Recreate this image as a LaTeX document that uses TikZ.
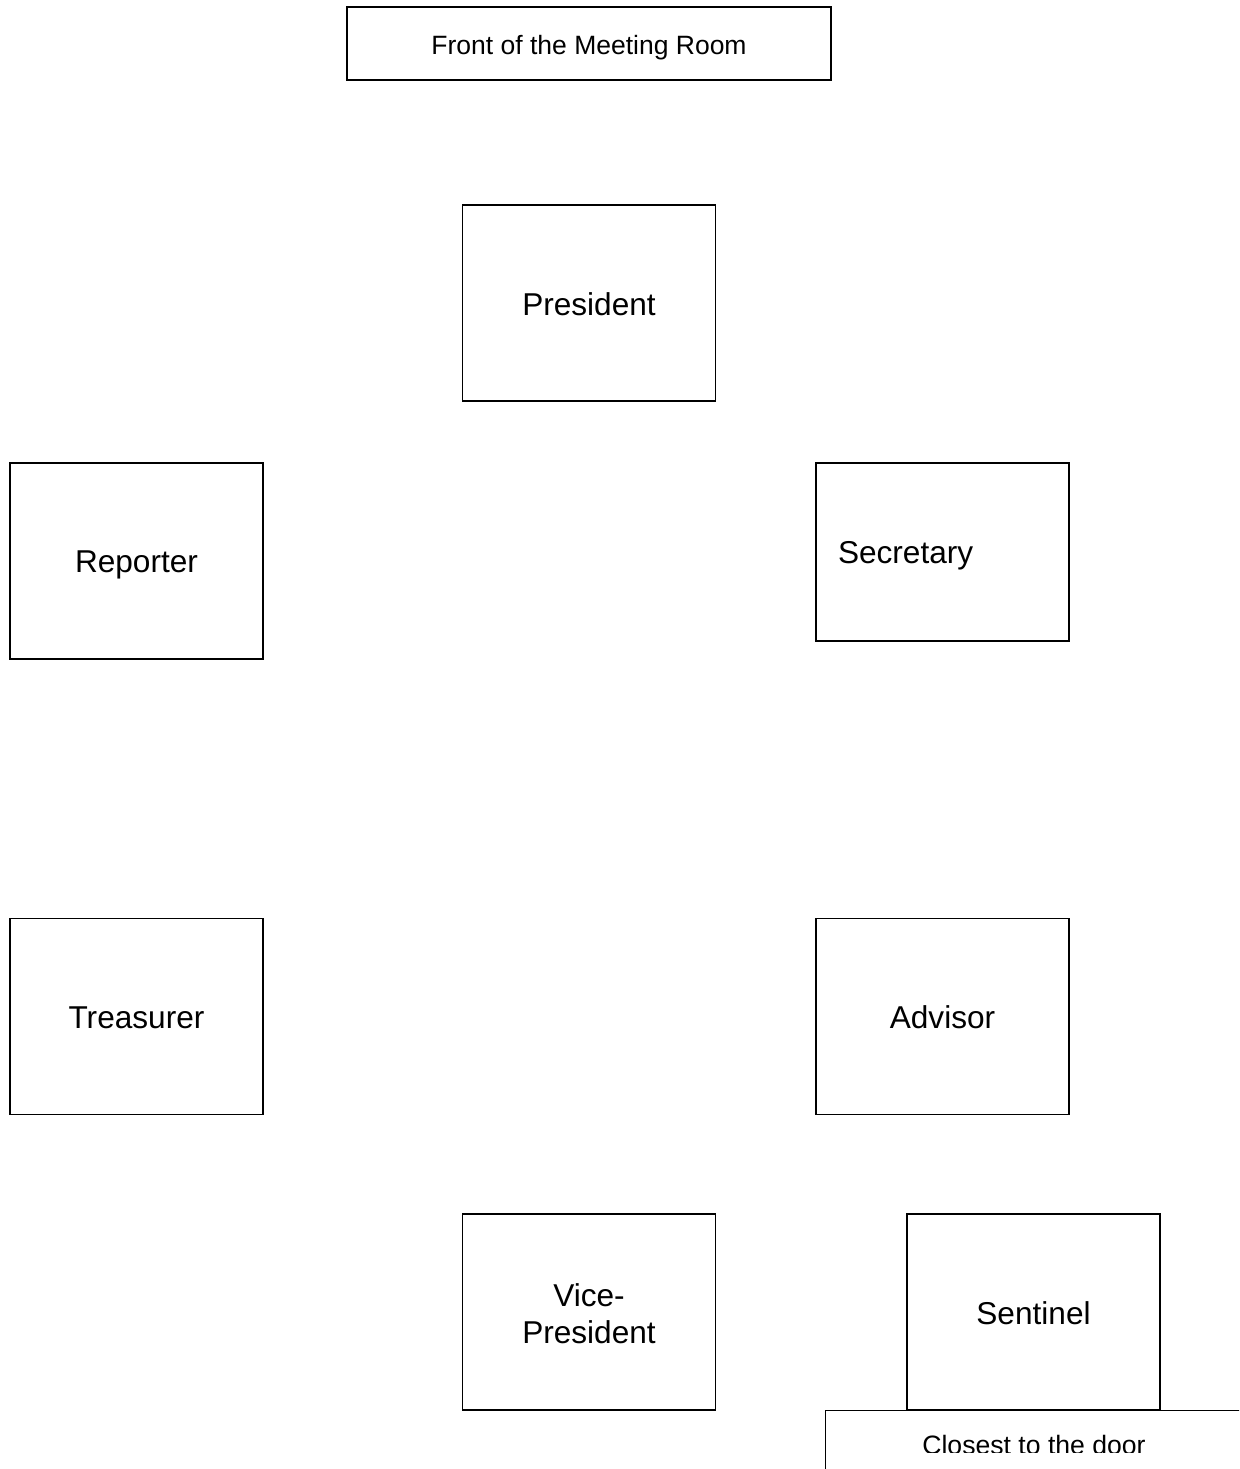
\documentclass[tikz,border=0pt]{standalone}
\usepackage{fontspec}
\setmainfont{Liberation Sans}
\begin{document}
\begin{tikzpicture}[x=1pt,y=-1pt,
  seat/.style={draw=black,line width=1.3pt,minimum width=253pt,minimum height=196pt,inner sep=0pt,font=\fontsize{31.6}{36.7}\selectfont,text height=24pt,text depth=0pt},
  frontbox/.style={draw=black,line width=1.3pt,minimum width=484pt,minimum height=73pt,inner sep=0pt,font=\fontsize{26.5}{32}\selectfont,text height=23pt,text depth=0pt}]
\useasboundingbox (0,0) rectangle (1239,1469);
\clip (0,0) rectangle (1239,1469);
\node[frontbox] (front) at (589,43.5) {Front of the Meeting Room};
\node[seat] (pres) at (589,303) {President};
\node[seat,text height=26pt,text depth=3pt] (rep) at (136.5,561) {Reporter};
\node[seat,minimum height=178pt,text width=209pt,align=left,inner xsep=22pt,text height=22pt] (sec) at (942.5,552) {Secretary};
\node[seat] (treas) at (136.5,1016.5) {Treasurer};
\node[seat] (adv) at (942.5,1016.5) {Advisor};
\node[seat,label={[name=vptext,font=\fontsize{31.6}{36.7}\selectfont,align=center,yshift=-2pt]center:{Vice-\\President}}] (vp) at (589,1312) {};
\node[seat] (sent) at (1033.5,1312) {Sentinel};
\node[draw=black,line width=1.3pt,fill=white,minimum width=416pt,minimum height=120pt,anchor=north west,inner sep=0pt] (door) at (825,1410) {};
\begin{scope}
\clip (825,1410) rectangle (1239,1452);
\node[font=\fontsize{26.6}{32}\selectfont,anchor=base] (doortext) at (1034,1454) {Closest to the door};
\end{scope}
\end{tikzpicture}
\end{document}
